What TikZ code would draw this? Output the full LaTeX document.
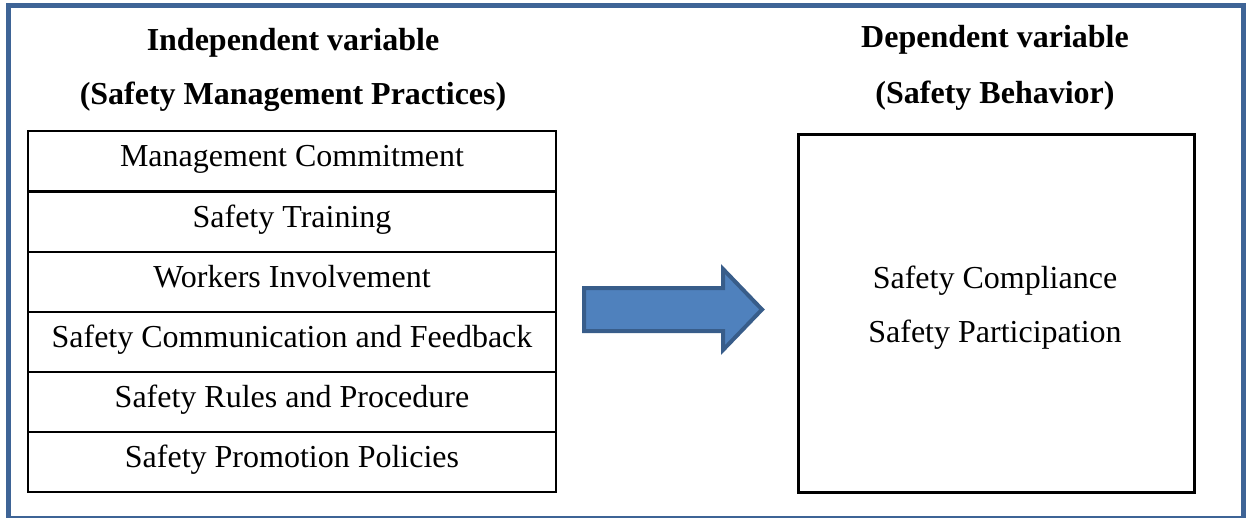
\documentclass[tikz,border=0pt]{standalone}
\usepackage{fontspec}
\setmainfont{Liberation Serif}
\definecolor{framecol}{HTML}{3E6496}
\definecolor{arrowfill}{HTML}{4F81BD}
\definecolor{arrowline}{HTML}{385D8A}
\begin{document}
\begin{tikzpicture}[x=1pt,y=-1pt,
  heading/.style={font=\fontsize{32}{38}\selectfont\bfseries, anchor=base, inner sep=0pt},
  plain/.style={font=\fontsize{32}{38}\selectfont, anchor=base, inner sep=0pt},
  rowbox/.style={draw=black, line width=2pt, minimum width=528pt, inner sep=0pt,
    text height=35pt, text depth=25pt, font=\fontsize{32}{38}\selectfont, anchor=north}]
\useasboundingbox (0,0) rectangle (1249,517);
% outer frame, its lower edge running just past the page
\begin{scope}
\clip (0,0) rectangle (1249,517);
\draw[framecol, line width=5pt] (8,5) rectangle (1243.5,518.5);
\end{scope}

% headings
\node[heading] (indep) at (293,50) {Independent variable};
\node[heading] (indepsub) at (293,104) {(Safety Management Practices)};
\node[heading] (dep) at (995,47) {Dependent variable};
\node[heading] (depsub) at (995,103) {(Safety Behavior)};

% list of practices
\node[rowbox] (r1) at (292,130) {Management Commitment};
\node[rowbox] (r2) at (292,191) {Safety Training};
\node[rowbox] (r3) at (292,251) {Workers Involvement};
\node[rowbox] (r4) at (292,311) {Safety Communication and Feedback};
\node[rowbox] (r5) at (292,371) {Safety Rules and Procedure};
\node[rowbox] (r6) at (292,431) {Safety Promotion Policies};

% behaviour box
\node[draw=black, line width=3pt, minimum width=396pt, minimum height=358pt, anchor=north west, inner sep=0pt] (beh) at (797,133) {};
\node[plain] (comp) at (995,288) {Safety Compliance};
\node[plain] (part) at (995,342) {Safety Participation};

% block arrow
\draw[arrowline, fill=arrowfill, line width=4pt, line join=miter]
  (584,288) -- (723,288) -- (723,269) -- (762,309.5) -- (723,350) -- (723,331) -- (584,331) -- cycle;
\end{tikzpicture}
\end{document}
